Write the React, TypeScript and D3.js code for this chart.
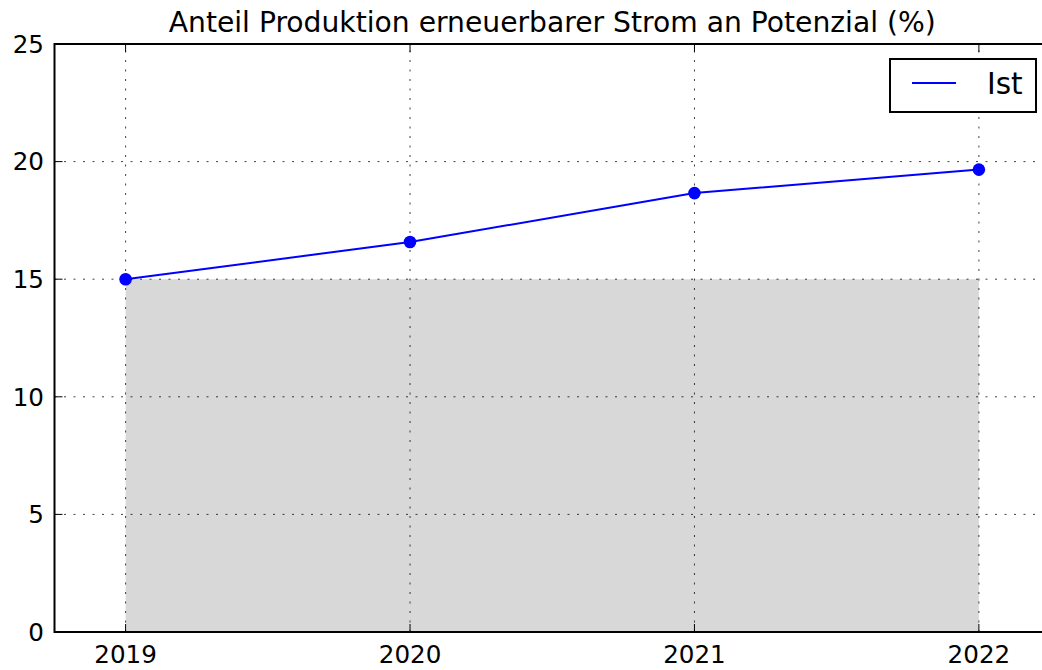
import React from 'react';
import * as d3 from 'd3';

const years = [2019, 2020, 2021, 2022];
const istValues = [15.0, 16.58, 18.66, 19.66];
const potentialBand = [15, 15, 15, 15];
const yTicks = [0, 5, 10, 15, 20, 25];
const title = 'Anteil Produktion erneuerbarer Strom an Potenzial (%)';
const legendLabel = 'Ist';

const width = 1042;
const height = 670;
const marginLeft = 54.5;
const marginTop = 44;
const plotRight = 1050;
const plotBottom = 632;
const font = '"DejaVu Sans", sans-serif';

export default function App() {
    const x = d3.scaleLinear([2018.75, 2022.25], [marginLeft, plotRight]);
    const y = d3.scaleLinear([0, 25], [plotBottom, marginTop]);

    const band = d3.area<number>()
        .x((_, i) => x(years[i]))
        .y0(() => y(0))
        .y1(d => y(d));

    const line = d3.line<number>()
        .x((_, i) => x(years[i]))
        .y(d => y(d));

    const gridDash = '2,7.5';
    const tickLen = 8;

    return (
        <svg width={width} height={height} style={{ position: 'absolute', left: 0, top: 0, background: '#fff' }}
            fontFamily={font}>
            <text x={(marginLeft + plotRight) / 2} y={32} textAnchor="middle" fontSize={28.2} fill="#000">{title}</text>

            <path d={band(potentialBand) ?? ''} fill="#d8d8d8" stroke="none" />

            {/* grid */}
            <g stroke="#000" strokeWidth={1} strokeDasharray={gridDash} opacity={0.75}>
                {years.map(yr => (
                    <line key={yr} x1={x(yr)} x2={x(yr)} y1={plotBottom} y2={marginTop} />
                ))}
                {yTicks.slice(1, -1).map(v => (
                    <line key={v} x1={marginLeft} x2={plotRight} y1={y(v)} y2={y(v)} />
                ))}
            </g>

            <path d={line(istValues) ?? ''} fill="none" stroke="#0000ff" strokeWidth={2} />
            {istValues.map((v, i) => (
                <circle key={i} cx={x(years[i])} cy={y(v)} r={6.3} fill="#0000ff" />
            ))}

            {/* ticks */}
            <g stroke="#000" strokeWidth={1}>
                {years.map(yr => (
                    <g key={yr}>
                        <line x1={x(yr)} x2={x(yr)} y1={plotBottom} y2={plotBottom - tickLen} />
                        <line x1={x(yr)} x2={x(yr)} y1={marginTop} y2={marginTop + tickLen} />
                    </g>
                ))}
                {yTicks.map(v => (
                    <line key={v} x1={marginLeft} x2={marginLeft + tickLen} y1={y(v)} y2={y(v)} />
                ))}
            </g>

            {/* spines */}
            <rect x={marginLeft} y={marginTop} width={plotRight - marginLeft} height={plotBottom - marginTop}
                fill="none" stroke="#000" strokeWidth={2} />

            {yTicks.map(v => (
                <text key={v} x={44} y={y(v)} dy="0.36em" textAnchor="end" fontSize={24.6} fill="#000">{v}</text>
            ))}
            {years.map(yr => (
                <text key={yr} x={x(yr)} y={663} textAnchor="middle" fontSize={24.6} fill="#000">{yr}</text>
            ))}

            {/* legend */}
            <rect x={890} y={59} width={146} height={53} fill="#fff" stroke="#000" strokeWidth={2} />
            <line x1={912} x2={956} y1={83} y2={83} stroke="#0000ff" strokeWidth={2} />
            <text x={987} y={94} fontSize={29.5} fill="#000">{legendLabel}</text>
        </svg>
    );
}
